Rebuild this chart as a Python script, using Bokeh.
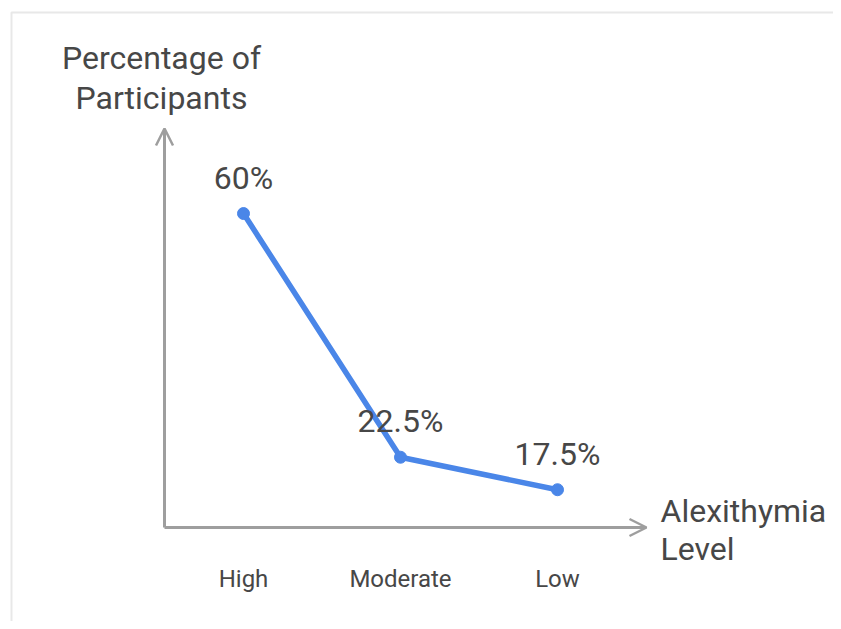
from bokeh.plotting import figure
from bokeh.models import Range1d, ColumnDataSource, Arrow, OpenHead
from bokeh.core.properties import value
from bokeh.embed import file_html
from bokeh.resources import INLINE

# ---- data ----
categories = ["High", "Moderate", "Low"]
percentages = [60, 22.5, 17.5]
point_labels = ["60%", "22.5%", "17.5%"]
y_title_lines = ["Percentage of", "Participants"]
x_title_lines = ["Alexithymia", "Level"]

# ---- layout (picture pixels -> data) ----
W, H = 833, 621
X_LEFT_PX, X_RIGHT_PX = 0, W
Y_TOP_PX, Y_BOT_PX = 0, H
CAT0_PX, CAT_STEP = 243, 157
V0_PX, PX_PER_UNIT = 602.96, 6.499

def dx(px):
    return (px - CAT0_PX) / CAT_STEP

def dy(py):
    return (V0_PX - py) / PX_PER_UNIT

p = figure(width=W, height=H, output_backend="svg", toolbar_location=None,
           x_range=Range1d(dx(X_LEFT_PX), dx(X_RIGHT_PX)),
           y_range=Range1d(dy(Y_BOT_PX), dy(Y_TOP_PX)),
           min_border=0)
p.axis.visible = False
p.grid.visible = False
p.outline_line_color = None
p.background_fill_color = "white"
p.border_fill_color = "white"

# light frame
p.line([dx(11), dx(11), dx(860)], [dy(640), dy(12), dy(12)],
       line_color="#e8e8e8", line_width=2)

axis_color = "#9e9e9e"
ax_x = dx(164)
ax_y = dy(527)
p.add_layout(Arrow(end=OpenHead(size=17, line_color=axis_color, line_width=2.5),
                   x_start=ax_x, y_start=ax_y, x_end=ax_x, y_end=dy(128),
                   line_color=axis_color, line_width=3))
p.add_layout(Arrow(end=OpenHead(size=17, line_color=axis_color, line_width=2.5),
                   x_start=ax_x, y_start=ax_y, x_end=dx(646), y_end=ax_y,
                   line_color=axis_color, line_width=3))

xs = list(range(len(categories)))
src = ColumnDataSource(dict(x=xs, y=percentages, lab=point_labels, cat=categories,
                            cy=[dy(578)] * len(xs)))

line_color = "#4a86e8"
p.line("x", "y", source=src, line_color=line_color, line_width=5.5)
p.scatter("x", "y", source=src, size=12, fill_color=line_color, line_color=line_color)

text_color = "#474747"
p.text("x", "y", text="lab", source=src, text_font=value("Roboto"),
       text_font_size="32px", text_color=text_color, text_align="center",
       text_baseline="alphabetic", y_offset=-36)

# category labels
p.text("x", "cy", text="cat", source=src, text_font=value("Roboto"),
       text_font_size="24px", text_color=text_color, text_align="center",
       text_baseline="alphabetic")

# axis titles
p.text([dx(161)] * 2, [dy(57), dy(97)], text=y_title_lines, text_font=value("Roboto"),
       text_font_size="32px", text_color=text_color, text_align="center",
       text_baseline="alphabetic")
p.text([dx(660)] * 2, [dy(510), dy(548)], text=x_title_lines, text_font=value("Roboto"),
       text_font_size="32px", text_color=text_color, text_align="left",
       text_baseline="alphabetic")

open("out.html", "w").write(file_html(p, INLINE))
